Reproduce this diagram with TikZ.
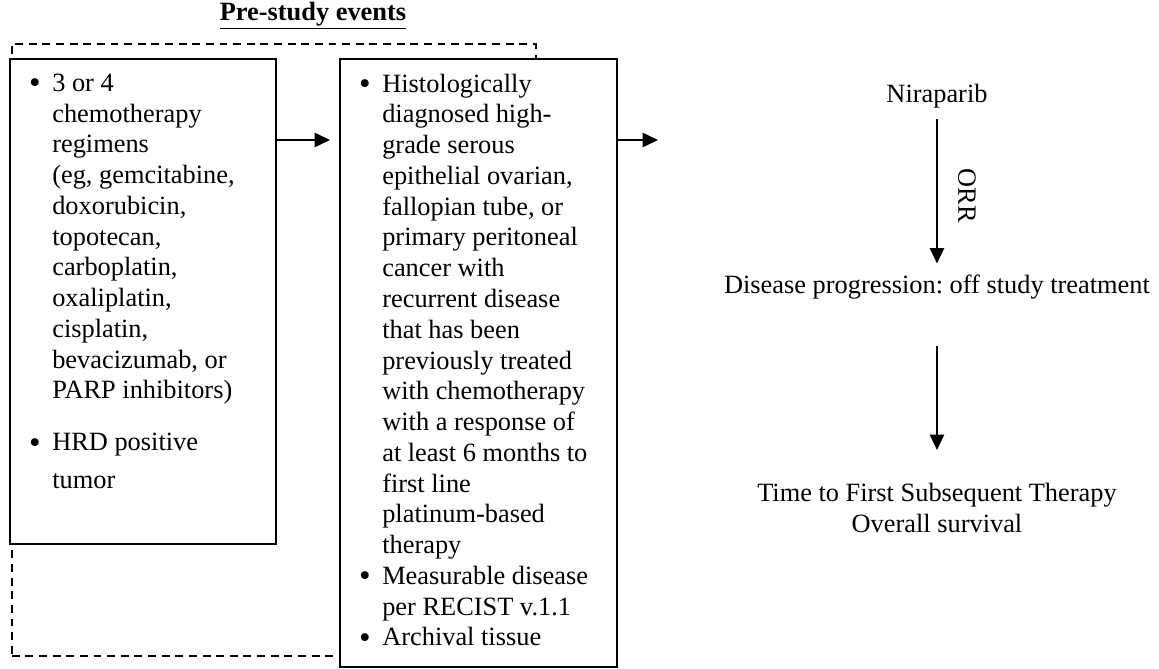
\documentclass[tikz,border=0pt]{standalone}
\usepackage{fontspec}
\setmainfont{Liberation Serif}
\usepackage{tikz}
\usetikzlibrary{arrows.meta,positioning}
\frenchspacing
\newcommand{\bul}{\makebox[10.5pt][l]{\raisebox{-1.1pt}{\fontsize{15}{14}\selectfont\textbullet}}}
\newcommand{\ind}{\hspace*{10.5pt}}
\tikzset{
  stagebox/.style={draw,line width=0.85pt,fill=white,inner sep=0pt,anchor=north west},
  listtext/.style={align=left,inner sep=0pt,anchor=north west,
    font=\fontsize{12}{14}\selectfont},
  outcome/.style={align=center,inner sep=1pt,font=\fontsize{12}{14}\selectfont},
  dashedframe/.style={draw,dash pattern=on 3.6pt off 2.6pt,line width=0.75pt,
    inner sep=0pt,anchor=north west},
  arrow/.style={-{Triangle[length=7pt,width=6.5pt]},line width=0.85pt}
}

\begin{document}
\begin{tikzpicture}[x=0.455pt,y=-0.455pt]
  \useasboundingbox (0,0) rectangle (1159,668);
  \node[font=\fontsize{12}{14}\selectfont\bfseries] (title) at (313,16) {\underline{Pre-study events}};
  \node[dashedframe,minimum width=238.4pt,minimum height=278.5pt] (frame) at (11,43) {};
  \node[stagebox,minimum width=121pt,minimum height=220.7pt] (box1) at (9,58) {};
  \node[stagebox,minimum width=126pt,minimum height=276.6pt] (box2) at (339,58) {};
  \node[listtext] (list1) at ([xshift=9pt,yshift=-7pt]box1.north west) {%
    \bul 3 or 4\\
    \ind chemotherapy\\
    \ind regimens\\
    \ind (eg, gemcitabine,\\
    \ind doxorubicin,\\
    \ind topotecan,\\
    \ind carboplatin,\\
    \ind oxaliplatin,\\
    \ind cisplatin,\\
    \ind bevacizumab, or\\
    \ind PARP inhibitors)\\[9.6pt]
    \bul HRD positive\\[3.3pt]
    \ind tumor};
  \node[listtext] (list2) at ([xshift=9pt,yshift=-7pt]box2.north west) {%
    \bul Histologically\\
    \ind diagnosed high-\\
    \ind grade serous\\
    \ind epithelial ovarian,\\
    \ind fallopian tube, or\\
    \ind primary peritoneal\\
    \ind cancer with\\
    \ind recurrent disease\\
    \ind that has been\\
    \ind previously treated\\
    \ind with chemotherapy\\
    \ind with a response of\\
    \ind at least 6 months to\\
    \ind first line\\
    \ind platinum-based\\
    \ind therapy\\
    \bul Measurable disease\\
    \ind per RECIST v.1.1\\
    \bul Archival tissue};
  \coordinate (exit) at (658,140);
  \draw[arrow] ([yshift=-37.3pt]box1.north east) -- ([yshift=-37.3pt,xshift=-4.1pt]box2.north west);
  \draw[arrow] ([yshift=-37.3pt]box2.north east) -- (exit);
  % study flow
  \node[outcome] (drug) at (937,96) {Niraparib};
  \node[outcome] (prog) at (937,287) {Disease progression: off study treatment};
  \node[outcome] (post) at (937,508) {Time to First Subsequent Therapy\\Overall survival};
  \node[outcome,rotate=-90] (orr) at (967,196) {ORR};
  \draw[arrow,shorten <=4pt,shorten >=4pt] (drug) -- (prog);
  \draw[arrow,shorten <=20pt,shorten >=14pt] (prog) -- (post);
\end{tikzpicture}
\end{document}
